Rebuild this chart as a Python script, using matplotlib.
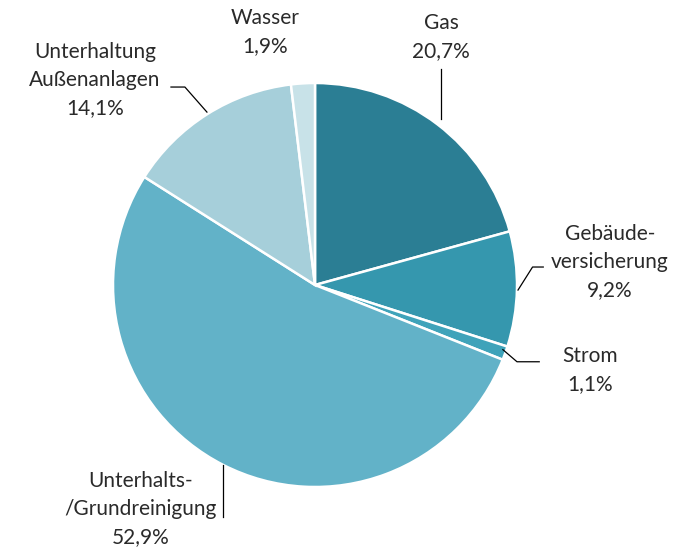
import matplotlib
matplotlib.use('Agg')
import matplotlib.pyplot as plt

plt.rcParams['font.family'] = ['Lato', 'DejaVu Sans']

### Data (clockwise from 12 o'clock)
labels = ['Gas', 'Gebäude-\nversicherung', 'Strom', 'Unterhalts-\n/Grundreinigung',
          'Unterhaltung\nAußenanlagen', 'Wasser']
values = [20.7, 9.2, 1.1, 52.9, 14.1, 1.9]
pct_text = ['20,7%', '9,2%', '1,1%', '52,9%', '14,1%', '1,9%']
colors = ['#2b7e94', '#3597ae', '#3fa3ba', '#62b2c8', '#a6cfda', '#c8e2e8']

# label positions (data units, radius = 1) and leader lines
label_pos = [(0.624, 1.228), (1.46, 0.114), (1.36, -0.42), (-0.865, -1.11),
             (-1.089, 1.015), (-0.248, 1.252)]
leaders = [
    [(0.624, 1.07), (0.624, 0.82)],
    [(1.13, 0.089), (1.077, 0.089), (1.005, -0.025)],
    [(1.11, -0.38), (1.0, -0.38), (0.93, -0.32)],
    [(-0.457, -1.15), (-0.457, -0.89)],
    [(-0.713, 0.98), (-0.644, 0.98), (-0.535, 0.856)],
]

fig = plt.figure(figsize=(6.87, 5.59), dpi=100)
ax = fig.add_axes([0, 0, 1, 1])

ax.pie(values, colors=colors, startangle=90, counterclock=False, radius=1,
       wedgeprops=dict(edgecolor='white', linewidth=1.8))

for lab, pct, (x, y) in zip(labels, pct_text, label_pos):
    ax.text(x, y, lab + '\n' + pct, ha='center', va='center', fontsize=15,
            color='#2a2a2a', linespacing=1.5)

for seg in leaders:
    ax.plot([p[0] for p in seg], [p[1] for p in seg], color='black', lw=0.9)

ax.set_xlim(-315 / 202, (687 - 315) / 202)
ax.set_ylim(-(559 - 285) / 202, 285 / 202)
ax.set_aspect('equal')
ax.axis('off')

fig.savefig('out.png', dpi=100)
